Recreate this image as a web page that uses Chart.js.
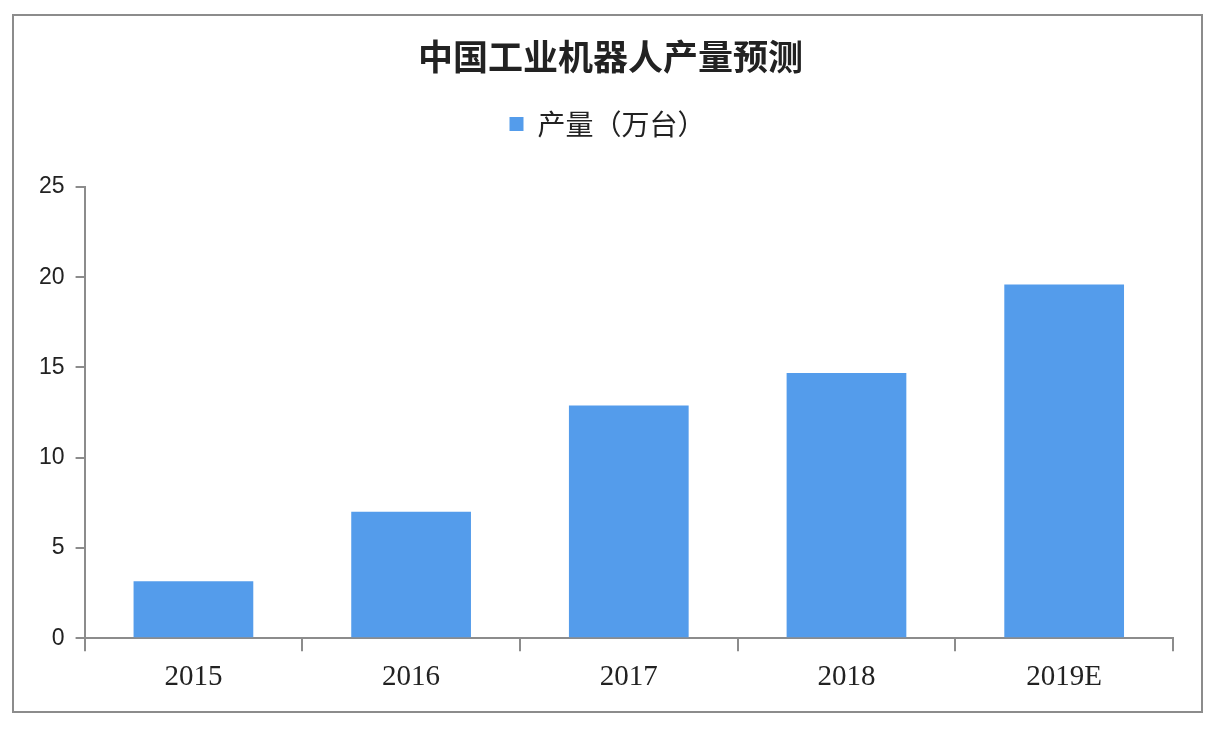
<!DOCTYPE html>
<html>
<head>
<meta charset="utf-8">
<script src="https://cdn.jsdelivr.net/npm/chart.js@4.4.0/dist/chart.umd.min.js"></script>
<style>
  html, body { margin: 0; padding: 0; background: #fff; }
  #frame {
    position: absolute; left: 12px; top: 14px; width: 1191px; height: 699px;
    border: 2px solid #8c8c8c; box-sizing: border-box;
  }
  #wrap { position: absolute; left: 0; top: 0; width: 1222px; height: 732px; }
</style>
</head>
<body>
<div id="frame"></div>
<div id="wrap"><canvas id="robotChart" width="1222" height="732"></canvas></div>
<script>
// datos del gráfico
const categories = ['2015', '2016', '2017', '2018', '2019E'];
const output = [3.15, 7.0, 12.9, 14.7, 19.6];
const yTicks = [0, 5, 10, 15, 20, 25];

// espacio extra debajo de la leyenda y centrado del título
const legendGap = {
    id: 'legendGap',
    afterInit(chart) {
        const legend = chart.legend;
        if (!legend) return;
        const fit = legend.fit;
        legend.fit = function () {
            fit.call(this);
            this.height += 39;
        };
    },
    afterLayout(chart) {
        chart.titleBlock.left += 10;
        chart.titleBlock.right += 10;
        chart.legend.left += 7;
        chart.legend.right += 7;
    }
};

const ctx = document.getElementById('robotChart').getContext('2d');
new Chart(ctx, {
    type: 'bar',
    data: {
        labels: categories,
        datasets: [{
            label: '产量（万台）',
            data: output,
            backgroundColor: '#549ceb',
            borderWidth: 0,
            categoryPercentage: 1,
            barPercentage: 0.55,
        }]
    },
    plugins: [legendGap],
    options: {
        responsive: false,
        animation: false,
        layout: { padding: { left: 28, right: 49, top: 0, bottom: 28 } },
        plugins: {
            title: {
                display: true,
                text: '中国工业机器人产量预测',
                color: '#222',
                font: { family: '"Noto Sans CJK SC", sans-serif', size: 35, weight: 'bold' },
                padding: { top: 36, bottom: 20 }
            },
            legend: {
                position: 'top',
                labels: {
                    boxWidth: 14, boxHeight: 14,
                    color: '#222',
                    padding: 12,
                    font: { family: '"Noto Sans CJK SC", sans-serif', size: 28 }
                }
            },
            tooltip: { enabled: false }
        },
        scales: {
            x: {
                grid: { drawOnChartArea: false, drawTicks: true, tickLength: 13, color: '#8c8c8c', lineWidth: 2 },
                border: { display: true, color: '#8c8c8c', width: 2 },
                ticks: {
                    color: '#222', padding: 9,
                    font: { family: '"Liberation Serif", serif', size: 29 }
                }
            },
            y: {
                min: 0, max: 25,
                afterBuildTicks: (axis) => { axis.ticks = yTicks.map(v => ({ value: v })); },
                grid: { drawOnChartArea: false, drawTicks: true, tickLength: 9, color: '#8c8c8c', lineWidth: 2 },
                border: { display: true, color: '#8c8c8c', width: 2 },
                ticks: {
                    color: '#222', padding: 11,
                    font: { family: '"Liberation Sans", Arial, sans-serif', size: 23 }
                }
            }
        }
    }
});
</script>
</body>
</html>
